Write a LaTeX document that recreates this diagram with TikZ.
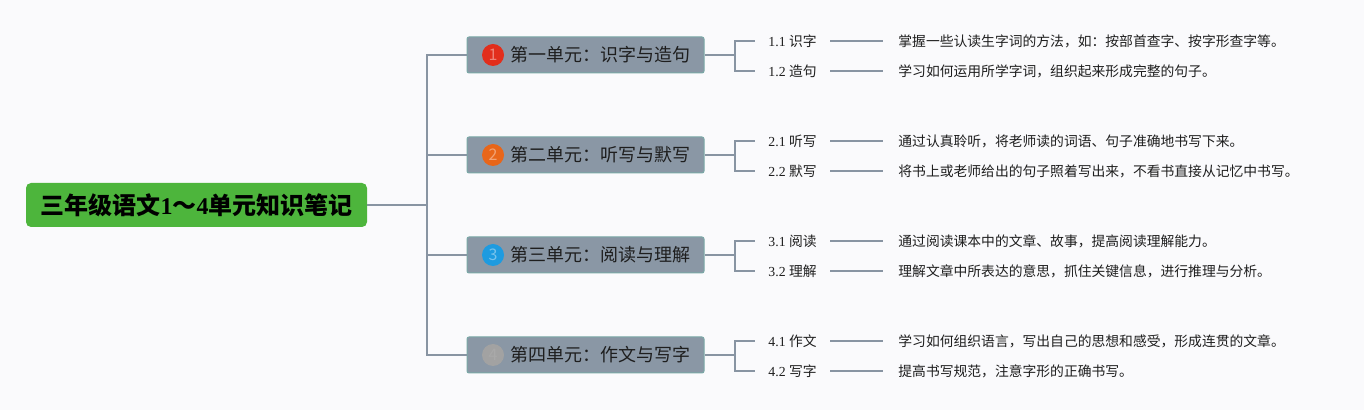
\documentclass[tikz,border=0pt]{standalone}
\usepackage{fontspec}
\setmainfont{Liberation Serif}
\newfontfamily\cjk{Noto Sans CJK SC}
\usetikzlibrary{positioning}
\definecolor{pagebg}{RGB}{250,250,252}
\definecolor{rootgreen}{RGB}{77,181,60}
\definecolor{unitfill}{RGB}{138,151,165}
\definecolor{unitedge}{RGB}{122,168,166}
\definecolor{linkgray}{RGB}{136,148,162}
\definecolor{badgered}{RGB}{226,46,28}
\definecolor{badgeorange}{RGB}{232,102,26}
\definecolor{badgeblue}{RGB}{30,155,224}
\definecolor{badgegray}{RGB}{162,162,162}
\definecolor{textdark}{RGB}{30,30,30}
\tikzset{
  link/.style={draw=linkgray, line width=0.75pt},
  rootbox/.style={fill=rootgreen, rounded corners=2.5pt, minimum width=170.5pt, minimum height=22pt, text=black, font=\fontsize{12}{14}\selectfont\bfseries},
  unitbox/.style={fill=unitfill, draw=unitedge, line width=0.5pt, rounded corners=1pt, minimum width=118.5pt, minimum height=18pt},
  unitlabel/.style={anchor=west, inner sep=0pt, text=textdark, font=\cjk\fontsize{9}{11}\selectfont},
  badge/.style={circle, fill=#1, minimum size=11pt, inner sep=0pt, text=#1!60!white, font=\cjk\fontsize{8}{8}\selectfont},
  sublabel/.style={anchor=west, inner xsep=6.5pt, inner ysep=1pt, text=textdark, font=\fontsize{6.9}{8}\selectfont},
  note/.style={anchor=west, inner xsep=7.5pt, inner ysep=1pt, text=textdark, font=\cjk\fontsize{6.9}{8}\selectfont},
}
\begin{document}
\begin{tikzpicture}[x=0.5pt, y=-0.5pt]
    % Background
    \fill[pagebg] (0,0) rectangle (1364,410);
    \useasboundingbox (0,0) rectangle (1364,410);

    % Root
    \node[rootbox] (root) at (196.5,205) {{\cjk\bfseries 三年级语文}1{\cjk\bfseries ～}4{\cjk\bfseries 单元知识笔记}};
    \coordinate (hub) at (427,205);
    \draw[link] (root.east) -- (hub);

    % Units
    \node[unitbox] (u1) at (585.5,55) {};
    \node[badge=badgered] (b1) at (493,55) {1};
    \node[unitlabel] (t1) at (510,55) {第一单元：识字与造句};

    \node[unitbox] (u2) at (585.5,155) {};
    \node[badge=badgeorange] (b2) at (493,155) {2};
    \node[unitlabel] (t2) at (510,155) {第二单元：听写与默写};

    \node[unitbox] (u3) at (585.5,255) {};
    \node[badge=badgeblue] (b3) at (493,255) {3};
    \node[unitlabel] (t3) at (510,255) {第三单元：阅读与理解};

    \node[unitbox] (u4) at (585.5,355) {};
    \node[badge=badgegray, text=badgegray!92!white] (b4) at (493,355) {4};
    \node[unitlabel] (t4) at (510,355) {第四单元：作文与写字};

    \draw[link] (hub) |- (u1.west);
    \draw[link] (hub) |- (u2.west);
    \draw[link] (hub) |- (u3.west);
    \draw[link] (hub) |- (u4.west);

    % Unit 1
    \node[sublabel] (s11) at (755,41) {1.1 {\cjk 识字}};
    \node[sublabel] (s12) at (755,71) {1.2 {\cjk 造句}};
    \node[note] (n11) at (883,41) {掌握一些认读生字词的方法，如：按部首查字、按字形查字等。};
    \node[note] (n12) at (883,71) {学习如何运用所学字词，组织起来形成完整的句子。};
    \coordinate (k1) at (735,55);
    \draw[link] (u1.east) -- (k1);
    \draw[link] (k1) |- (s11.west);
    \draw[link] (k1) |- (s12.west);
    \draw[link] (s11.east) -- (n11.west);
    \draw[link] (s12.east) -- (n12.west);

    % Unit 2
    \node[sublabel] (s21) at (755,141) {2.1 {\cjk 听写}};
    \node[sublabel] (s22) at (755,171) {2.2 {\cjk 默写}};
    \node[note] (n21) at (883,141) {通过认真聆听，将老师读的词语、句子准确地书写下来。};
    \node[note] (n22) at (883,171) {将书上或老师给出的句子照着写出来，不看书直接从记忆中书写。};
    \coordinate (k2) at (735,155);
    \draw[link] (u2.east) -- (k2);
    \draw[link] (k2) |- (s21.west);
    \draw[link] (k2) |- (s22.west);
    \draw[link] (s21.east) -- (n21.west);
    \draw[link] (s22.east) -- (n22.west);

    % Unit 3
    \node[sublabel] (s31) at (755,241) {3.1 {\cjk 阅读}};
    \node[sublabel] (s32) at (755,271) {3.2 {\cjk 理解}};
    \node[note] (n31) at (883,241) {通过阅读课本中的文章、故事，提高阅读理解能力。};
    \node[note] (n32) at (883,271) {理解文章中所表达的意思，抓住关键信息，进行推理与分析。};
    \coordinate (k3) at (735,255);
    \draw[link] (u3.east) -- (k3);
    \draw[link] (k3) |- (s31.west);
    \draw[link] (k3) |- (s32.west);
    \draw[link] (s31.east) -- (n31.west);
    \draw[link] (s32.east) -- (n32.west);

    % Unit 4
    \node[sublabel] (s41) at (755,341) {4.1 {\cjk 作文}};
    \node[sublabel] (s42) at (755,371) {4.2 {\cjk 写字}};
    \node[note] (n41) at (883,341) {学习如何组织语言，写出自己的思想和感受，形成连贯的文章。};
    \node[note] (n42) at (883,371) {提高书写规范，注意字形的正确书写。};
    \coordinate (k4) at (735,355);
    \draw[link] (u4.east) -- (k4);
    \draw[link] (k4) |- (s41.west);
    \draw[link] (k4) |- (s42.west);
    \draw[link] (s41.east) -- (n41.west);
    \draw[link] (s42.east) -- (n42.west);
\end{tikzpicture}
\end{document}
